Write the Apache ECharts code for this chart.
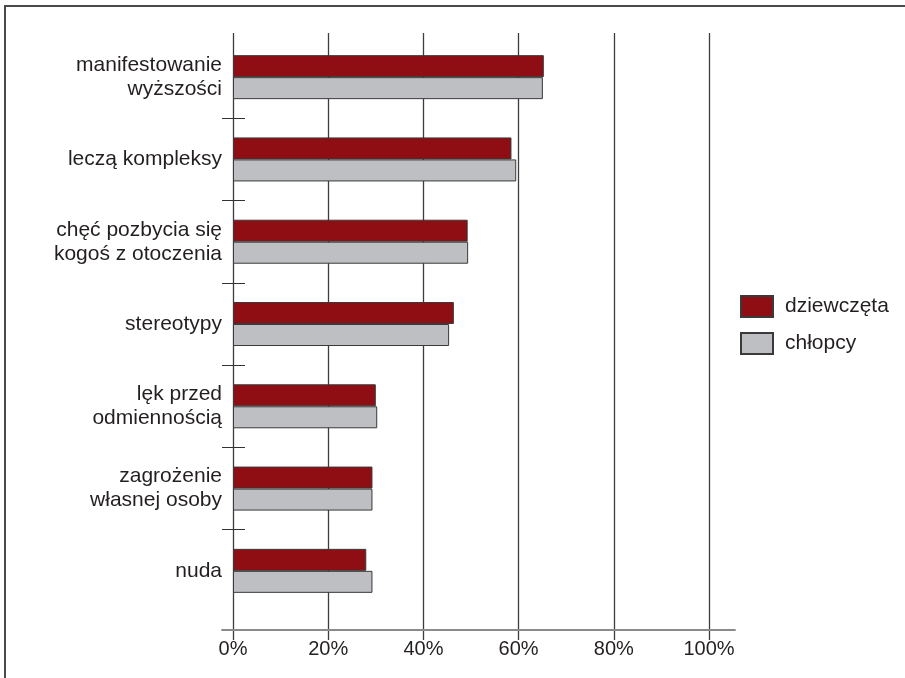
<!DOCTYPE html>
<html>
<head>
<meta charset="utf-8">
<script src="https://cdn.jsdelivr.net/npm/echarts@6/dist/echarts.min.js"></script>
<style>
  html, body { margin: 0; padding: 0; background: #fff; }
  #wrap { position: relative; width: 905px; height: 678px; }
  #frame { position: absolute; left: 4px; top: 5px; right: 0; bottom: 0;
           border-top: 2px solid #4a4a4a; border-left: 2px solid #4a4a4a; }
  #chart { position: absolute; left: 0; top: 0; width: 905px; height: 678px; }
</style>
</head>
<body>
<div id="wrap">
  <div id="frame"></div>
  <div id="chart"></div>
</div>
<script>
// Reasons given for the behaviour, share of answers (%)
const categories = [
  'manifestowanie\nwyższości',
  'leczą kompleksy',
  'chęć pozbycia się\nkogoś z otoczenia',
  'stereotypy',
  'lęk przed\nodmiennością',
  'zagrożenie\nwłasnej osoby',
  'nuda'
];
const girls = [65.3, 58.5, 49.3, 46.4, 30.0, 29.3, 28.0];
const boys  = [65.1, 59.5, 49.4, 45.4, 30.3, 29.3, 29.3];
const seriesNames = ['dziewczęta', 'chłopcy'];
const tickValues = [0, 20, 40, 60, 80, 100];

const FONT = '"Liberation Sans", Arial, Helvetica, sans-serif';
const TEXT = '#231f20';

// plot geometry
const plotLeft = 233, plotWidth = 476;
const pxPerUnit = plotWidth / 100;
const axisLeft = 222, axisRight = 735;

// separators between category bands
const separators = categories.slice(1).map((_, i) => i + 1);

const chart = echarts.init(document.getElementById('chart'), null, { renderer: 'canvas' });

chart.setOption({
  animation: false,
  textStyle: { fontFamily: FONT },
  legend: {
    orient: 'vertical',
    left: 735,
    top: 290,
    itemWidth: 32,
    itemHeight: 21,
    itemGap: 14,
    icon: 'rect',
    data: seriesNames,
    textStyle: { fontSize: 21, color: TEXT, fontFamily: FONT, padding: [0, 0, 0, 7] }
  },
  grid: [
    // bars
    { left: plotLeft, width: plotWidth, top: 36, height: 576 },
    // vertical gridlines
    { left: plotLeft, width: plotWidth, top: 33, height: 607 },
    // value axis line and labels
    { left: axisLeft, width: axisRight - axisLeft, top: 33, height: 597 }
  ],
  xAxis: [
    { gridIndex: 0, type: 'value', min: 0, max: 100, show: false },
    {
      gridIndex: 1, type: 'value', min: 0, max: 100, interval: 20,
      axisLine: { show: false }, axisTick: { show: false }, axisLabel: { show: false },
      splitLine: { show: true, lineStyle: { color: '#3d3d3d', width: 1.3 } }
    },
    {
      gridIndex: 2, type: 'value',
      min: -(plotLeft - axisLeft) / pxPerUnit,
      max: (axisRight - plotLeft) / pxPerUnit,
      axisLine: { show: true, lineStyle: { color: '#8a8a8a', width: 1.8 } },
      axisTick: { show: false },
      splitLine: { show: false },
      axisLabel: {
        customValues: tickValues,
        formatter: v => Math.round(v) + '%',
        fontSize: 20, color: TEXT, fontFamily: FONT, margin: 9
      }
    }
  ],
  yAxis: [
    {
      gridIndex: 0, type: 'category', data: categories, inverse: true,
      axisLine: { show: false }, axisTick: { show: false },
      axisLabel: { fontSize: 21, lineHeight: 24, color: TEXT, fontFamily: FONT, margin: 11, align: 'right' }
    },
    {
      gridIndex: 0, type: 'value', min: 0, max: categories.length, inverse: true,
      position: 'left', offset: -12,
      axisLine: { show: false }, axisLabel: { show: false }, splitLine: { show: false },
      axisTick: { show: true, customValues: separators, length: 23, lineStyle: { color: '#333', width: 1 } }
    },
    { gridIndex: 1, type: 'value', show: false },
    { gridIndex: 2, type: 'value', show: false }
  ],
  series: [
    {
      name: seriesNames[0], type: 'bar', xAxisIndex: 0, yAxisIndex: 0,
      data: girls, barWidth: 22, barGap: '0%',
      itemStyle: { color: '#8e0e13', borderColor: '#3a3a3a', borderWidth: 1 }
    },
    {
      name: seriesNames[1], type: 'bar', xAxisIndex: 0, yAxisIndex: 0,
      data: boys, barWidth: 22, barGap: '0%',
      itemStyle: { color: '#bebfc3', borderColor: '#3a3a3a', borderWidth: 1 }
    }
  ]
});
</script>
</body>
</html>
